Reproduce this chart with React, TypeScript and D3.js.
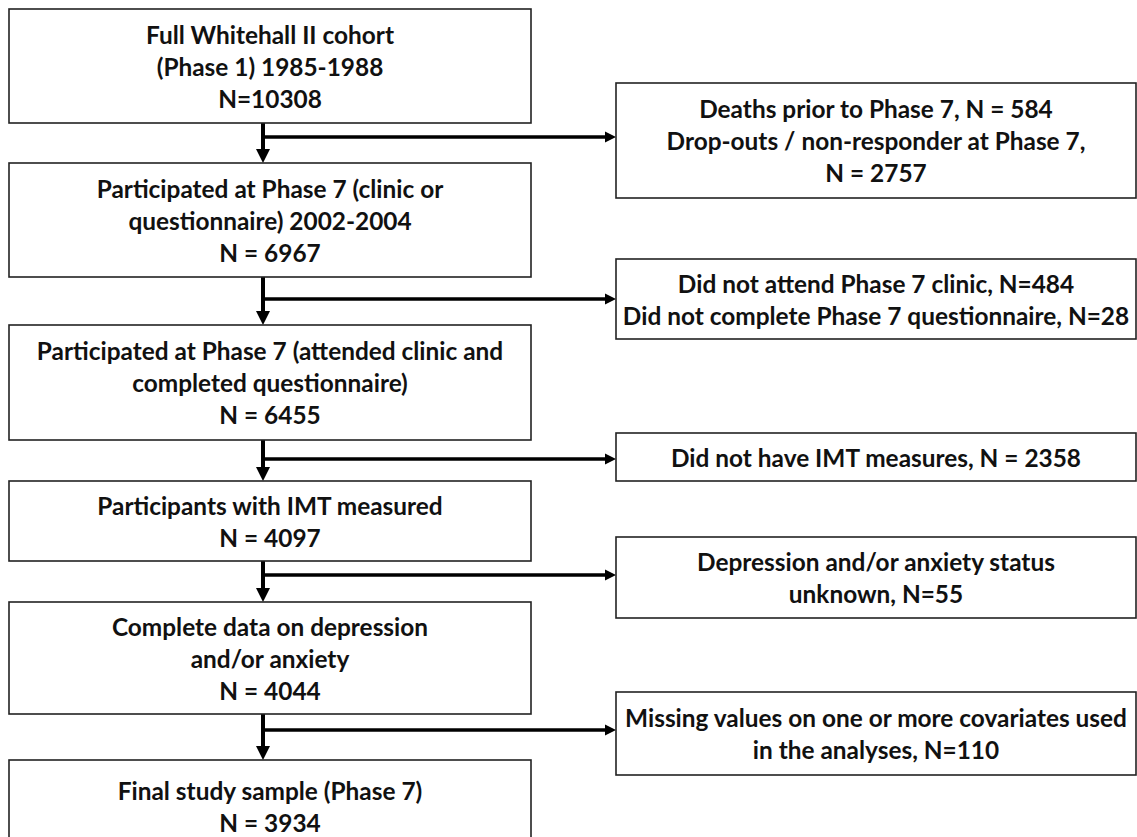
import React, { useEffect, useRef } from "react";
import * as d3 from "d3";

// flow steps (main column) and exclusions (right column)
const mainSteps: string[][] = [
  ["Full Whitehall II cohort", "(Phase 1) 1985-1988", "N=10308"],
  ["Participated at Phase 7 (clinic or", "questionnaire) 2002-2004", "N = 6967"],
  ["Participated at Phase 7 (attended clinic and", "completed questionnaire)", "N = 6455"],
  ["Participants with IMT measured", "N = 4097"],
  ["Complete data on depression", "and/or anxiety", "N = 4044"],
  ["Final study sample (Phase 7)", "N = 3934"],
];

const exclusions: string[][] = [
  ["Deaths prior to Phase 7, N = 584", "Drop-outs / non-responder at Phase 7,", "N = 2757"],
  ["Did not attend Phase 7 clinic, N=484", "Did not complete Phase 7 questionnaire, N=28"],
  ["Did not have IMT measures, N = 2358"],
  ["Depression and/or anxiety status", "unknown, N=55"],
  ["Missing values on one or more covariates used", "in the analyses, N=110"],
];

// layout (px)
const MAIN_X = [9, 531];
const SIDE_X = [616, 1136];
const STEM_X = 263;
const mainTop = [9, 163, 325, 481, 602, 760];
const mainBottom = [123, 277, 440, 561, 714, 852];
const sideTop = [83, 259, 433, 537, 692];
const sideBottom = [198, 339, 481, 618, 775];
const branchY = [137, 299, 459, 575, 730];

const W = 1137;
const H = 837;
const FONT = "Lato, 'Open Sans', sans-serif";
const FONT_PX = 24.4;
const LINE_H = 32;

export default function App() {
  const svgRef = useRef<SVGSVGElement | null>(null);

  useEffect(() => {
    const svg = d3.select(svgRef.current).attr("width", W).attr("height", H);
    svg.selectAll("*").remove();

    const g = svg.append("g");

    const drawBox = (x0: number, x1: number, y0: number, y1: number, lines: string[]) => {
      g.append("rect")
        .attr("x", x0)
        .attr("y", y0)
        .attr("width", x1 - x0)
        .attr("height", y1 - y0)
        .attr("fill", "#fff")
        .attr("stroke", "#222")
        .attr("stroke-width", 1.6);
      const cx = (x0 + x1) / 2;
      const cy = (y0 + Math.min(y1, H + 20)) / 2;
      const n = lines.length;
      g.append("text")
        .attr("text-anchor", "middle")
        .attr("font-family", FONT)
        .attr("font-weight", 700)
        .attr("font-size", FONT_PX)
        .attr("fill", "#111")
        .selectAll("tspan")
        .data(lines)
        .join("tspan")
        .attr("x", cx)
        .attr("y", (_, i) => cy + (i - (n - 1) / 2) * LINE_H)
        .attr("dominant-baseline", "central")
        .text((d) => d);
    };

    // connectors first
    const conn = g.append("g").attr("fill", "#000").attr("stroke", "#000");
    mainSteps.slice(1).forEach((_, i) => {
      const yA = mainBottom[i];
      const yB = mainTop[i + 1];
      const head = 14;
      conn.append("line")
        .attr("x1", STEM_X).attr("x2", STEM_X)
        .attr("y1", yA).attr("y2", yB - head + 1)
        .attr("stroke-width", 4);
      const p = d3.path();
      p.moveTo(STEM_X - 7, yB - head);
      p.lineTo(STEM_X + 7, yB - head);
      p.lineTo(STEM_X, yB);
      p.closePath();
      conn.append("path").attr("d", p.toString()).attr("stroke", "none");
    });

    exclusions.forEach((_, i) => {
      const y = branchY[i];
      const head = 11;
      const x1 = SIDE_X[0];
      conn.append("line")
        .attr("x1", STEM_X).attr("x2", x1 - head + 1)
        .attr("y1", y).attr("y2", y)
        .attr("stroke-width", 3.5);
      const p = d3.path();
      p.moveTo(x1 - head, y - 5.5);
      p.lineTo(x1 - head, y + 5.5);
      p.lineTo(x1, y);
      p.closePath();
      conn.append("path").attr("d", p.toString()).attr("stroke", "none");
    });

    mainSteps.forEach((lines, i) =>
      drawBox(MAIN_X[0], MAIN_X[1], mainTop[i], mainBottom[i], lines)
    );
    exclusions.forEach((lines, i) =>
      drawBox(SIDE_X[0], SIDE_X[1], sideTop[i], sideBottom[i], lines)
    );
  }, []);

  return (
    <svg
      ref={svgRef}
      style={{ position: "absolute", left: 0, top: 0, background: "#fff" }}
    />
  );
}
